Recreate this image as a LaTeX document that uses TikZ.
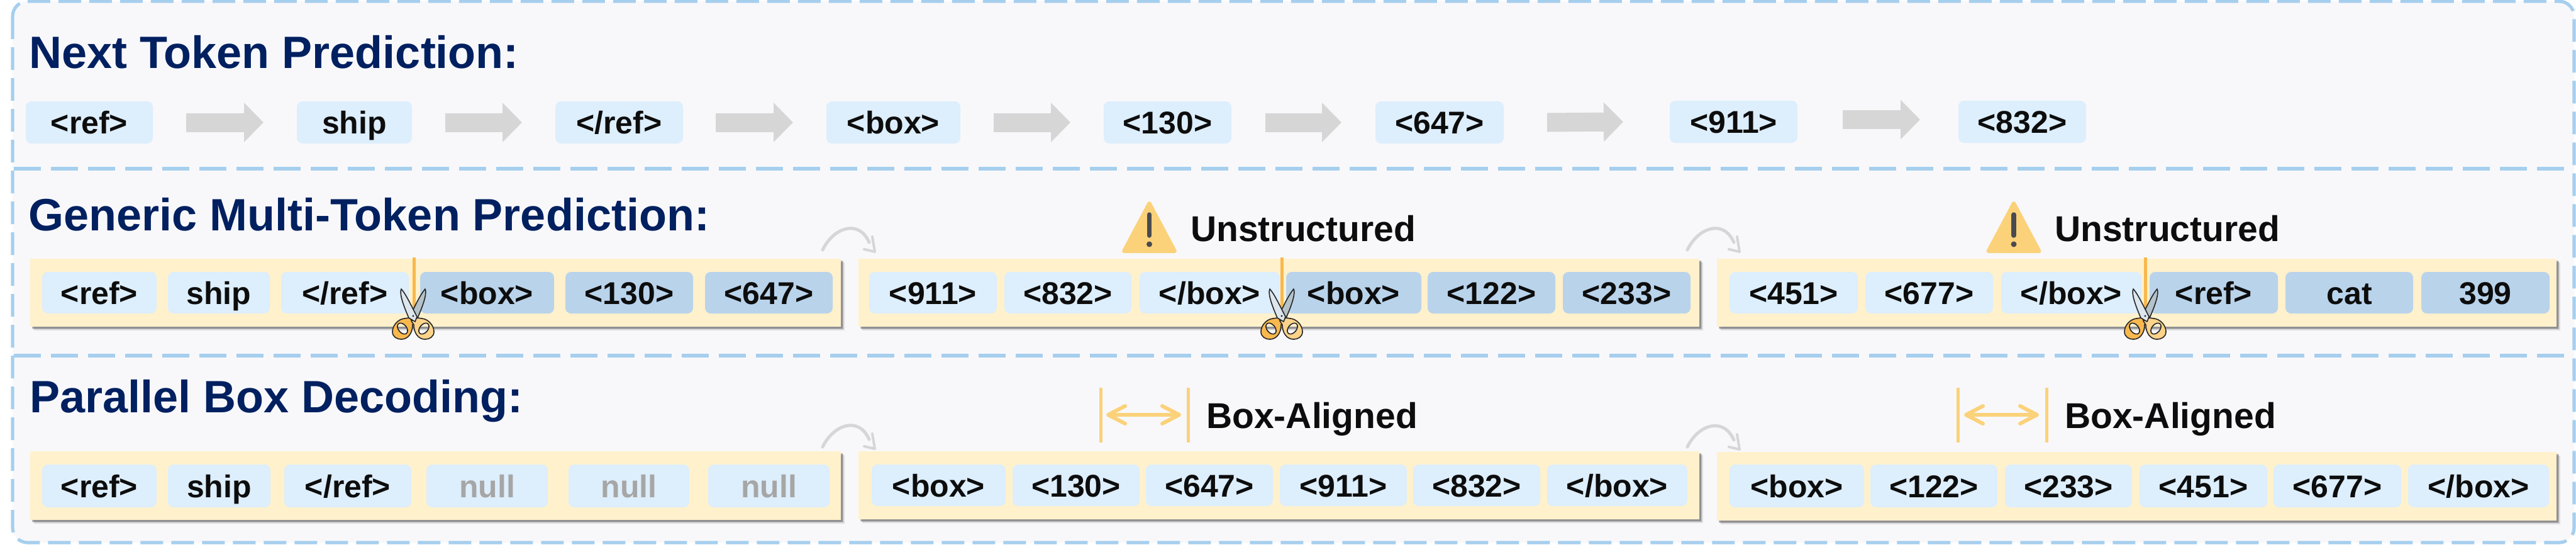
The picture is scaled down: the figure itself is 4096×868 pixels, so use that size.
\documentclass[tikz,border=0pt]{standalone}
\usepackage{fontspec}
\setmainfont{Liberation Sans}
\usetikzlibrary{calc,arrows.meta}
\definecolor{panelbg}{HTML}{F8F8FB}
\definecolor{frameblue}{HTML}{A6CFEE}
\definecolor{toklight}{HTML}{DDEEFC}
\definecolor{tokdark}{HTML}{B9D3EB}
\definecolor{tray}{HTML}{FFF1CC}
\definecolor{arrowgrey}{HTML}{D6D6D6}
\definecolor{titleblue}{HTML}{002060}
\definecolor{inkblack}{HTML}{0D0D0D}
\definecolor{nullgrey}{HTML}{A6A6A6}
\definecolor{cutorange}{HTML}{F8B84E}
\definecolor{softyellow}{HTML}{FBD27A}
\definecolor{warnink}{HTML}{4A4A4F}
\definecolor{handlelight}{HTML}{FBD38A}
\definecolor{bladelight}{HTML}{DCE6EC}
\definecolor{bladedark}{HTML}{B4C2C9}
\tikzset{
  x=1pt,y=-1pt,
  tokbase/.style={rounded corners=9pt,inner sep=0pt,outer sep=0pt,text=inkblack,
    font=\fontsize{50}{50}\selectfont\bfseries,text height=36pt,text depth=0pt},
  lighttok/.style={tokbase,fill=toklight},
  darktok/.style={tokbase,fill=tokdark},
  nulltok/.style={tokbase,fill=toklight,text=nullgrey},
  traybox/.style={fill=tray,inner sep=0pt,outer sep=0pt},
  heading/.style={anchor=base west,inner sep=0pt,text=titleblue,font=\fontsize{72}{72}\selectfont\bfseries},
  note/.style={anchor=base west,inner sep=0pt,text=inkblack,font=\fontsize{57}{57}\selectfont\bfseries},
  blockarrow/.style={draw=arrowgrey,line width=30pt,-{Triangle[length=31pt,width=61pt,fill=arrowgrey]}},
  bentline/.style={draw=arrowgrey,line width=5pt,line cap=round,line join=round},
  frameline/.style={draw=frameblue,line width=5.2pt},
  cutline/.style={draw=cutorange,line width=5pt},
  alignline/.style={draw=softyellow,line width=5pt},
  scissorline/.style={draw=black!85,line width=1.6pt,line join=round},
}
\newcommand{\tok}[7]{\node[#6,minimum width={(#3-#2)*1pt},minimum height={(#5-#4)*1pt}] (#1) at ({(#2+#3)/2},{(#4+#5)/2}) {#7};}
\newcommand{\traypanel}[5]{%
  \fill[black,opacity=.10] (#2+6,#4+6) rectangle (#3+6,#5+6);
  \fill[black,opacity=.16] (#2+4,#4+4) rectangle (#3+4,#5+4);
  \fill[black,opacity=.22] (#2+2.5,#4+2.5) rectangle (#3+2.5,#5+2.5);
  \node[traybox,minimum width={(#3-#2)*1pt},minimum height={(#5-#4)*1pt}] (#1) at ({(#2+#3)/2},{(#4+#5)/2}) {};}
\newcommand{\bentarrow}[4]{%
  \coordinate (#1#2s) at ($(#1.north east)+(-29+#4,#3)$);
  \coordinate (#1#2e) at ($(#2.north west)+(26+#4,#3+3)$);
  \draw[bentline] (#1#2s) .. controls +(17,-35) and ($(#1#2e)+(-26,-53)$) .. ($(#1#2e)+(-9,-15)$);
  \draw[bentline,line width=4pt] ($(#1#2e)+(-4,-24)$) -- (#1#2e) -- ($(#1#2e)+(-17,-4)$);}
\newcommand{\scissorsat}[2]{%
  \begin{scope}[shift={(#1,#2)}]
    \path[scissorline,even odd rule,fill=cutorange]
      (-14,4) .. controls (-24,5) and (-33,15) .. (-33,25) .. controls (-33,33) and (-26,37) .. (-19,37)
      .. controls (-8,37) and (-1,27) .. (-1,14) -- (3,8) -- (-4,2) .. controls (-8,3) and (-11,4) .. (-14,4) -- cycle
      (-17,20) ellipse [x radius=6.5,y radius=10,rotate=40];
    \begin{scope}[xscale=-1]
      \path[scissorline,even odd rule,fill=handlelight]
      (-14,4) .. controls (-24,5) and (-33,15) .. (-33,25) .. controls (-33,33) and (-26,37) .. (-19,37)
      .. controls (-8,37) and (-1,27) .. (-1,14) -- (3,8) -- (-4,2) .. controls (-8,3) and (-11,4) .. (-14,4) -- cycle
      (-17,20) ellipse [x radius=6.5,y radius=10,rotate=40];
    \end{scope}
    \path[scissorline,fill=bladedark] (19,-43) .. controls (22,-36) and (17,-20) .. (7,3) -- (-3,7) -- (-5,0) .. controls (2,-14) and (10,-32) .. cycle;
    \path[scissorline,fill=bladelight] (-19,-43) .. controls (-22,-36) and (-17,-20) .. (-7,3) -- (3,9) -- (6,1) .. controls (-2,-14) and (-11,-34) .. cycle;
    \fill[black!85] (0,0) circle (1.6);
  \end{scope}}
\newcommand{\warnsign}[1]{%
  \begin{scope}[shift={(#1,0)}]
    \path[fill=softyellow,draw=softyellow,line width=6pt,line join=round] (0,323) -- (-40.5,399) -- (40.5,399) -- cycle;
    \draw[warnink,line width=7.5pt,line cap=round] (0,341) -- (0,374);
    \fill[warnink] (0,388) circle (4.5);
  \end{scope}}
\newcommand{\alignmark}[4]{%
  \draw[alignline] (#1,616) -- (#1,703);
  \draw[alignline] (#2,616) -- (#2,703);
  \draw[alignline,line width=6pt,line cap=round,line join=round] (#3+27,645) -- (#3,659) -- (#3+27,673);
  \draw[alignline,line width=6pt,line cap=round,line join=round] (#4-27,645) -- (#4,659) -- (#4-27,673);
  \draw[alignline,line width=6pt] (#3,659) -- (#4,659);}
\begin{document}
\begin{tikzpicture}
\useasboundingbox (0,0) rectangle (4096,868);
\fill[white] (0,0) rectangle (4096,868);
\fill[panelbg,rounded corners=24pt] (20,2) rectangle (4093,862);
\draw[frameline,rounded corners=24pt,dash pattern=on 36pt off 13pt] (20,2) rectangle (4093,862);
\draw[frameline,dash pattern=on 43pt off 16pt] (22,268) -- (4091,268);
\draw[frameline,dash pattern=on 43pt off 16pt] (22,565) -- (4091,565);

% Row 1
\node[heading] (h1) at (46,108) {Next Token Prediction:};
\tok{a1}{41}{243}{161}{228}{lighttok}{<ref>}
\tok{a2}{472}{655}{161}{228}{lighttok}{ship}
\tok{a3}{883}{1086}{161}{228}{lighttok}{</ref>}
\tok{a4}{1314}{1527}{161}{228}{lighttok}{<box>}
\tok{a5}{1755}{1958}{161}{228}{lighttok}{<130>}
\tok{a6}{2187}{2391}{161}{228}{lighttok}{<647>}
\tok{a7}{2655}{2858}{160}{227}{lighttok}{<911>}
\tok{a8}{3114}{3317}{160}{227}{lighttok}{<832>}
\draw[blockarrow] ([xshift=53pt]a1.east) -- ([xshift=-53pt]a2.west);
\draw[blockarrow] ([xshift=53pt]a2.east) -- ([xshift=-53pt]a3.west);
\draw[blockarrow] ([xshift=52pt]a3.east) -- ([xshift=-53pt]a4.west);
\draw[blockarrow] ([xshift=53pt]a4.east) -- ([xshift=-53pt]a5.west);
\draw[blockarrow] ([xshift=54pt]a5.east) -- ([xshift=-54pt]a6.west);
\draw[blockarrow] ([xshift=69pt]a6.east) -- ([xshift=-74pt]a7.west);
\draw[blockarrow] ([xshift=72pt,yshift=3.5pt]a7.east) -- ([xshift=-61pt,yshift=3.5pt]a8.west);

% Row 2
\node[heading] (h2) at (45,366) {Generic Multi-Token Prediction:};
\traypanel{b}{48}{1337}{411}{519}
\traypanel{c}{1365}{2702}{411}{519}
\traypanel{d}{2730}{4065}{411}{519}
\tok{b1}{67}{249}{432}{498}{lighttok}{<ref>}
\tok{b2}{267}{429}{432}{498}{lighttok}{ship}
\tok{b3}{447}{650}{432}{498}{lighttok}{</ref>}
\tok{b4}{668}{881}{432}{498}{darktok}{<box>}
\tok{b5}{899}{1102}{432}{498}{darktok}{<130>}
\tok{b6}{1121}{1324}{432}{498}{darktok}{<647>}
\tok{c1}{1382}{1585}{432}{498}{lighttok}{<911>}
\tok{c2}{1597}{1799}{432}{498}{lighttok}{<832>}
\tok{c3}{1812}{2035}{432}{498}{lighttok}{</box>}
\tok{c4}{2045}{2260}{432}{498}{darktok}{<box>}
\tok{c5}{2270}{2473}{432}{498}{darktok}{<122>}
\tok{c6}{2485}{2688}{432}{498}{darktok}{<233>}
\tok{d1}{2750}{2954}{432}{498}{lighttok}{<451>}
\tok{d2}{2966}{3169}{432}{498}{lighttok}{<677>}
\tok{d3}{3182}{3405}{432}{498}{lighttok}{</box>}
\tok{d4}{3418}{3622}{432}{498}{darktok}{<ref>}
\tok{d5}{3634}{3837}{432}{498}{darktok}{cat}
\tok{d6}{3850}{4054}{432}{498}{darktok}{399}
\draw[cutline] (658,409) -- (658,490);
\draw[cutline] (2038.5,409) -- (2038.5,490);
\draw[cutline] (3411,409) -- (3411,490);
\scissorsat{657}{502}
\scissorsat{2038}{502}
\scissorsat{3411}{502}
\bentarrow{b}{c}{-14}{0}
\bentarrow{c}{d}{-14}{10}
\warnsign{1827.5}
\node[note] (u1) at (1893,383) {Unstructured};
\warnsign{3202}
\node[note] (u2) at (3267,383) {Unstructured};

% Row 3
\node[heading] (h3) at (47,655) {Parallel Box Decoding:};
\traypanel{e}{48}{1337}{717}{826}
\traypanel{f}{1365}{2702}{717}{825}
\traypanel{g}{2730}{4065}{718}{827}
\tok{e1}{67}{249}{738}{806}{lighttok}{<ref>}
\tok{e2}{267}{430}{738}{806}{lighttok}{ship}
\tok{e3}{452}{654}{738}{806}{lighttok}{</ref>}
\tok{e4}{678}{871}{738}{806}{nulltok}{null}
\tok{e5}{904}{1096}{738}{806}{nulltok}{null}
\tok{e6}{1126}{1319}{738}{806}{nulltok}{null}
\tok{f1}{1386}{1599}{738}{804}{lighttok}{<box>}
\tok{f2}{1610}{1812}{738}{804}{lighttok}{<130>}
\tok{f3}{1822}{2024}{738}{804}{lighttok}{<647>}
\tok{f4}{2035}{2237}{738}{804}{lighttok}{<911>}
\tok{f5}{2247}{2449}{738}{804}{lighttok}{<832>}
\tok{f6}{2460}{2683}{738}{804}{lighttok}{</box>}
\tok{g1}{2750}{2964}{738}{806}{lighttok}{<box>}
\tok{g2}{2974}{3176}{738}{806}{lighttok}{<122>}
\tok{g3}{3188}{3390}{738}{806}{lighttok}{<233>}
\tok{g4}{3402}{3605}{738}{806}{lighttok}{<451>}
\tok{g5}{3615}{3818}{738}{806}{lighttok}{<677>}
\tok{g6}{3829}{4053}{738}{806}{lighttok}{</box>}
\bentarrow{e}{f}{-7}{0}
\bentarrow{f}{g}{-7}{10}
\alignmark{1750}{1889}{1762}{1875}
\node[note] (k1) at (1918,680) {Box-Aligned};
\alignmark{3113}{3254}{3126}{3239}
\node[note] (k2) at (3283,680) {Box-Aligned};
\end{tikzpicture}
\end{document}
